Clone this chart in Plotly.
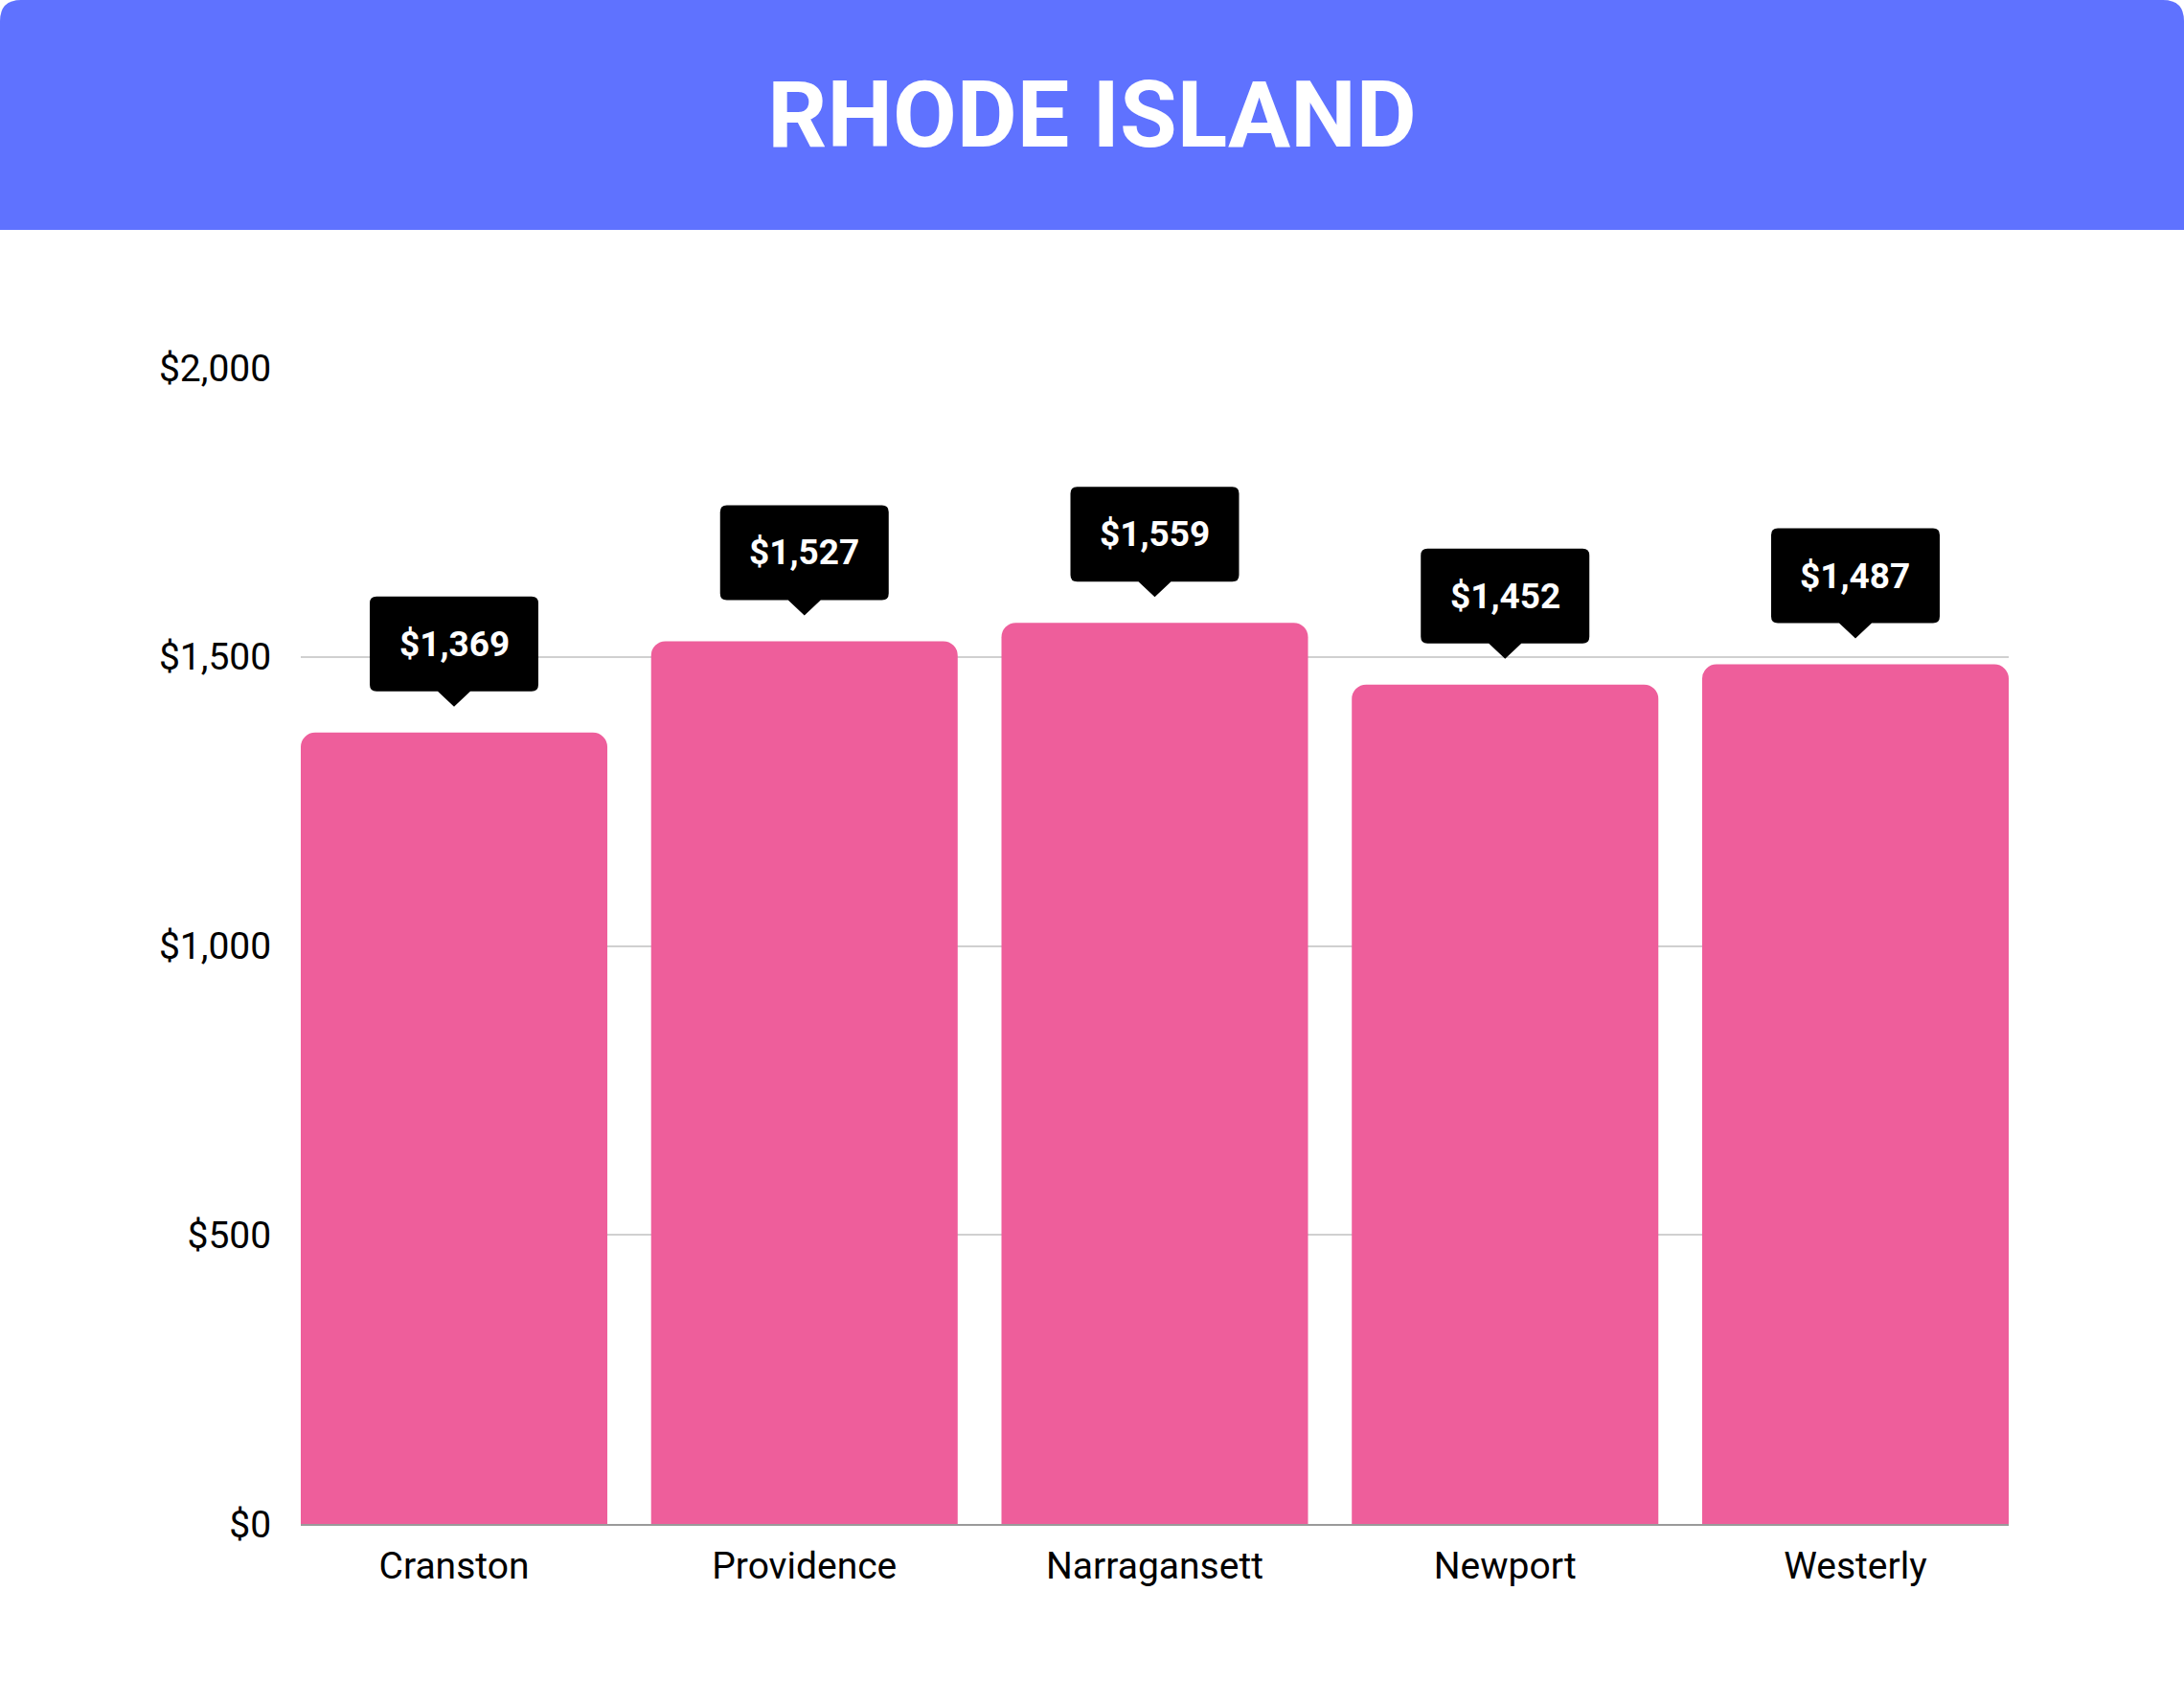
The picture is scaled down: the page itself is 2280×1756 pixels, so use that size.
import plotly.graph_objects as go

cities = ['Cranston', 'Providence', 'Narragansett', 'Newport', 'Westerly']
costs = [1369, 1527, 1559, 1452, 1487]
y_ticks = [0, 500, 1000, 1500, 2000]
y_tick_text = ['$0', '$500', '$1,000', '$1,500', '$2,000']

W, H = 2280, 1756
ML, MR, MT, MB = 314, 183, 384, 165
PW, PH = W - ML - MR, H - MT - MB
BAR_W = 0.875

def px_x(x):
    return (x - ML) / PW

def px_y(y):
    return (H - MB - y) / PH

# header band with rounded top corners (paper coords)
r, band = 22, 240
band_path = ('M{},{} L{},{} Q{},{} {},{} L{},{} Q{},{} {},{} L{},{} Z'.format(
    px_x(0), px_y(band), px_x(0), px_y(r),
    px_x(0), px_y(0), px_x(r), px_y(0),
    px_x(W - r), px_y(0),
    px_x(W), px_y(0), px_x(W), px_y(r),
    px_x(W), px_y(band)))

# callout bubble (pixels, relative to bar top, y up)
gap, tri_h, tri_w, box_h, box_w, cr = 27, 16, 17, 99, 88, 7
b0, b1 = gap + tri_h, gap + tri_h + box_h
bubble = ('M0,{g} L{tw},{b0} L{bw_r},{b0} Q{bw},{b0} {bw},{b0r} L{bw},{b1r} '
          'Q{bw},{b1} {bw_r},{b1} L{nbw_r},{b1} Q{nbw},{b1} {nbw},{b1r} '
          'L{nbw},{b0r} Q{nbw},{b0} {nbw_r},{b0} L{ntw},{b0} Z').format(
    g=gap, tw=tri_w, ntw=-tri_w, b0=b0, b1=b1, b0r=b0 + cr, b1r=b1 - cr,
    bw=box_w, bw_r=box_w - cr, nbw=-box_w, nbw_r=-box_w + cr)

fig = go.Figure()
fig.add_trace(go.Bar(
    x=cities, y=costs,
    marker=dict(color='#EE5E9B', cornerradius=15, line=dict(width=0)),
    hoverinfo='skip'
))

shapes = [dict(type='path', xref='paper', yref='paper', path=band_path,
               fillcolor='#5F72FF', line=dict(width=0), layer='below')]
for c, v in zip(cities, costs):
    shapes.append(dict(type='path', xref='x', yref='y',
                       xsizemode='pixel', ysizemode='pixel',
                       xanchor=c, yanchor=v, path=bubble,
                       fillcolor='black', line=dict(width=0), layer='above'))
    fig.add_annotation(
        x=c, y=v, xref='x', yref='y',
        text='<b>${:,}</b>'.format(v),
        font=dict(family='Roboto', size=37, color='white'),
        showarrow=False, yanchor='middle', yshift=(b0 + b1) / 2
    )

fig.update_layout(
    width=W, height=H,
    margin=dict(l=ML, r=MR, t=MT, b=MB),
    paper_bgcolor='white', plot_bgcolor='white',
    bargap=1 - BAR_W,
    showlegend=False,
    font=dict(family='Roboto', color='black'),
    title=dict(
        text='<b>RHODE ISLAND</b>',
        font=dict(family='Roboto', size=97, color='white'),
        x=0.5, xanchor='center', xref='container',
        y=1 - 119 / H, yanchor='middle', yref='container'
    ),
    shapes=shapes
)

fig.update_xaxes(
    range=[-BAR_W / 2, len(cities) - 1 + BAR_W / 2],
    showgrid=False, zeroline=False,
    showline=True, linecolor='#9A9A9A', linewidth=2,
    ticks='outside', ticklen=8, tickcolor='rgba(0,0,0,0)',
    tickfont=dict(family='Roboto', size=39, color='black')
)
fig.update_yaxes(
    range=[0, 2000], tickmode='array', tickvals=y_ticks, ticktext=y_tick_text,
    showgrid=True, gridcolor='#D0D0D0', gridwidth=1.5, zeroline=False,
    ticks='outside', ticklen=22, tickcolor='rgba(0,0,0,0)',
    tickfont=dict(family='Roboto', size=39, color='black')
)

fig.write_html('out.html', config={'displayModeBar': False},
               post_script="document.body.style.margin='0';")
